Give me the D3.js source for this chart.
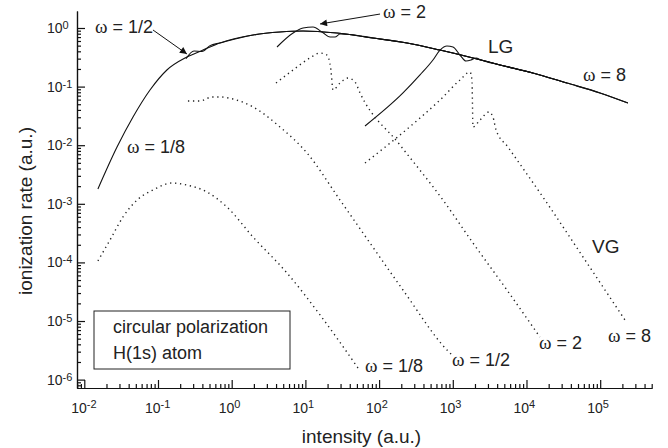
<!DOCTYPE html>
<html>
<head>
<meta charset="utf-8">
<script src="https://cdn.jsdelivr.net/npm/d3@7"></script>
<style>
  body { margin: 0; background: #fff; }
  text { font-family: "Liberation Sans", Arial, Helvetica, sans-serif; fill: #222; }
  .omega { font-family: "Liberation Serif", "DejaVu Serif", serif; }
</style>
</head>
<body>
<div id="chart"></div>
<script>
// LG curves (solid) as [intensity, rate]
var lgOmega18 = [[0.0153,1.79e-3],[0.0278,9.3e-3],[0.0458,0.0303],[0.0779,0.0875],[0.132,0.192],
  [0.247,0.32],[0.408,0.42],[0.69,0.555],[1.95,0.76],[4.5,0.855],[9.3,0.89],[26.8,0.82],[82.6,0.675],
  [239,0.555],[670,0.42],[1880,0.308],[4370,0.234],[12200,0.171],[35400,0.115],[99400,0.078],[238000,0.0525]];
var lgOmega12 = [[0.24,0.30],[0.308,0.405],[0.395,0.397],[0.508,0.50],[0.69,0.555],[1.95,0.76],[4.5,0.855],
  [9.3,0.89],[26.8,0.82],[82.6,0.675],[239,0.555],[670,0.42],[1880,0.308],[4370,0.234],[12200,0.171]];
var lgOmega2 = [[4.12,0.474],[6.8,0.82],[9.3,1.0],[12.7,1.04],[16.8,0.855],[21.6,0.70],[25.2,0.70],[29.5,0.79],
  [40.3,0.775],[82.6,0.675],[239,0.555],[670,0.42],[1880,0.308],[4370,0.234],[12200,0.171],[35400,0.115]];
var lgOmega8 = [[64.4,0.0213],[211,0.078],[359,0.158],[538,0.284],[670,0.42],[834,0.493],[1006,0.474],
  [1253,0.346],[1511,0.273],[1767,0.284],[2066,0.308],[2415,0.284],[4370,0.234],[12200,0.171],[35400,0.115],
  [99400,0.078],[238000,0.0525]];

// VG curves (dotted)
var vgOmega18 = [[0.0153,1.06e-4],[0.0223,2.41e-4],[0.0335,5.96e-4],[0.0519,1.16e-3],[0.0855,1.72e-3],
  [0.155,2.26e-3],[0.247,2.09e-3],[0.462,1.59e-3],[0.863,8.8e-4],[1.95,2.71e-4],[5.63,6.6e-5],[15.8,1.27e-5],[51.7,1.58e-6]];
var vgOmega12 = [[0.255,0.0568],[0.371,0.0568],[0.54,0.0665],[0.693,0.0665],[1.04,0.0614],[1.95,0.0449],
  [4.52,0.0205],[10.5,7.37e-3],[29.5,1.16e-3],[75.3,2.14e-4],[211,3.38e-5],[834,3.2e-6],[975,2.63e-6]];
var vgOmega2 = [[3.99,0.115],[6.79,0.192],[11.5,0.308],[15.8,0.374],[19.6,0.346],[22.2,0.192],[23.7,0.0875],
  [29.5,0.115],[37.8,0.140],[47.1,0.120],[55.1,0.0778],[192,0.0101],[736,1.16e-3],[1880,2.14e-4],[5430,3.38e-5],[15200,5.33e-6]];
var vgOmega8 = [[64.4,4.97e-3],[359,0.0291],[670,0.059],[1253,0.130],[1711,0.177],[1820,0.130],[1880,0.0205],
  [2340,0.0269],[3100,0.0369],[3510,0.0303],[3860,0.0182],[5610,9.3e-3],[17800,1.16e-3],[62200,1.1e-4],[217000,1.04e-5]];

// tick decades
var xDecades = [-2, -1, 0, 1, 2, 3, 4, 5];
var yDecades = [0, -1, -2, -3, -4, -5, -6];

// annotations: [intensity, rate, omega text, rest]
var labels = [
  [0.014, 0.82, "ω", " = 1/2"],
  [113, 1.48, "ω", " = 2"],
  [0.0379, 7.36e-3, "ω", " = 1/8"],
  [58500, 0.125, "ω", " = 8"],
  [64.4, 1.35e-6, "ω", " = 1/8"],
  [975, 1.71e-6, "ω", " = 1/2"],
  [14800, 3.33e-6, "ω", " = 2"],
  [128000, 4.38e-6, "ω", " = 8"]
];
var gaugeLabels = [[3000, 0.374, "LG"], [77400, 1.45e-4, "VG"]];
var arrows = [
  [[0.0855, 0.925], [0.247, 0.36]],
  [[103, 1.73], [15.8, 1.17]]
];
var boxLines = ["circular polarization", "H(1s) atom"];

var svgWidth = 668;
var svgHeight = 448;
var margin = { top: 11, right: 16, bottom: 60, left: 77 };
var width = svgWidth - margin.left - margin.right;
var height = svgHeight - margin.top - margin.bottom;

var svg = d3.select("#chart")
  .append("svg")
  .attr("width", svgWidth)
  .attr("height", svgHeight);

svg.append("defs").append("marker")
  .attr("id", "arrow")
  .attr("viewBox", "0 0 10 10")
  .attr("refX", 10)
  .attr("refY", 5)
  .attr("markerWidth", 11)
  .attr("markerHeight", 7)
  .attr("markerUnits", "userSpaceOnUse")
  .attr("orient", "auto")
  .append("path")
  .attr("d", "M0,0 L10,5 L0,10 z")
  .attr("fill", "#111");

var chartGroup = svg.append("g")
  .attr("transform", `translate(${margin.left}, ${margin.top})`);

var xScale = d3.scaleLog()
  .domain([Math.pow(10, -2.099), Math.pow(10, 5.703)])
  .range([0, width]);

var yScale = d3.scaleLog()
  .domain([Math.pow(10, -6.143), Math.pow(10, 0.29)])
  .range([height, 0]);

// log ticks
function logTicks(scale) {
  var d = scale.domain();
  var lo = Math.floor(Math.log10(d[0])), hi = Math.ceil(Math.log10(d[1]));
  var major = [], minor = [];
  for (var e = lo; e <= hi; e++) {
    for (var k = 1; k <= 9; k++) {
      var v = k * Math.pow(10, e);
      if (v < d[0] * 0.999 || v > d[1] * 1.001) continue;
      if (k === 1) major.push(v); else minor.push(v);
    }
  }
  return { major: major, minor: minor };
}

var xt = logTicks(xScale);
var yt = logTicks(yScale);

chartGroup.append("g")
  .attr("transform", `translate(0, ${height})`)
  .call(d3.axisBottom(xScale).tickValues(xt.minor).tickSizeInner(-4).tickSizeOuter(0).tickFormat(""));
chartGroup.append("g")
  .attr("transform", `translate(0, ${height})`)
  .call(d3.axisBottom(xScale).tickValues(xt.major).tickSizeInner(-8).tickSizeOuter(0).tickFormat(""));
chartGroup.append("g")
  .call(d3.axisLeft(yScale).tickValues(yt.minor).tickSizeInner(-4).tickSizeOuter(0).tickFormat(""));
chartGroup.append("g")
  .call(d3.axisLeft(yScale).tickValues(yt.major).tickSizeInner(-8).tickSizeOuter(0).tickFormat(""));

chartGroup.selectAll(".domain, .tick line")
  .attr("stroke", "#111")
  .attr("stroke-width", 1.2);

// tick labels with superscript exponents
xDecades.forEach(function(e) {
  var t = chartGroup.append("text")
    .attr("x", xScale(Math.pow(10, e)) - 13)
    .attr("y", height + 25)
    .style("font-size", "14px");
  t.append("tspan").text("10");
  t.append("tspan").attr("dy", -5).style("font-size", "11px").text(e);
});

yDecades.forEach(function(e) {
  var t = chartGroup.append("text")
    .attr("x", -30)
    .attr("y", yScale(Math.pow(10, e)) + 5)
    .style("font-size", "14px");
  t.append("tspan").text("10");
  t.append("tspan").attr("dy", -4).style("font-size", "11px").text(e);
});

// axis titles
chartGroup.append("text")
  .attr("x", width / 2 - 3)
  .attr("y", height + 55)
  .style("text-anchor", "middle")
  .style("font-size", "19px")
  .text("intensity (a.u.)");

chartGroup.append("text")
  .attr("transform", "rotate(-90)")
  .attr("x", -(200))
  .attr("y", -45)
  .style("text-anchor", "middle")
  .style("font-size", "19px")
  .text("ionization rate (a.u.)");

// curves
var line = d3.line()
  .x(d => xScale(d[0]))
  .y(d => yScale(d[1]))
  .curve(d3.curveMonotoneX);

[lgOmega18, lgOmega12, lgOmega2, lgOmega8].forEach(function(s) {
  chartGroup.append("path")
    .datum(s)
    .attr("d", line)
    .attr("fill", "none")
    .attr("stroke", "#111")
    .attr("stroke-width", 1.1);
});

[vgOmega18, vgOmega12, vgOmega2, vgOmega8].forEach(function(s) {
  chartGroup.append("path")
    .datum(s)
    .attr("d", line)
    .attr("fill", "none")
    .attr("stroke", "#222")
    .attr("stroke-width", 1.4)
    .attr("stroke-dasharray", "1.3,3.7");
});

// arrows
arrows.forEach(function(a) {
  chartGroup.append("line")
    .attr("x1", xScale(a[0][0])).attr("y1", yScale(a[0][1]))
    .attr("x2", xScale(a[1][0])).attr("y2", yScale(a[1][1]))
    .attr("stroke", "#111")
    .attr("stroke-width", 1)
    .attr("marker-end", "url(#arrow)");
});

// omega labels
labels.forEach(function(l) {
  var t = chartGroup.append("text")
    .attr("x", xScale(l[0]))
    .attr("y", yScale(l[1]))
    .style("font-size", "18px");
  t.append("tspan").attr("class", "omega").style("font-size", "19px").text(l[2]);
  t.append("tspan").text(l[3]);
});

gaugeLabels.forEach(function(l) {
  chartGroup.append("text")
    .attr("x", xScale(l[0]))
    .attr("y", yScale(l[1]))
    .style("font-size", "19px")
    .text(l[2]);
});

// info box
var box = chartGroup.append("g")
  .attr("transform", "translate(17, 300)");
box.append("rect")
  .attr("width", 196)
  .attr("height", 58)
  .attr("fill", "#fff")
  .attr("stroke", "#222")
  .attr("stroke-width", 1);
box.selectAll("text.info")
  .data(boxLines)
  .enter()
  .append("text")
  .attr("class", "info")
  .attr("x", 19)
  .attr("y", (d, i) => 22 + i * 26)
  .style("font-size", "18px")
  .text(d => d);
</script>
</body>
</html>
